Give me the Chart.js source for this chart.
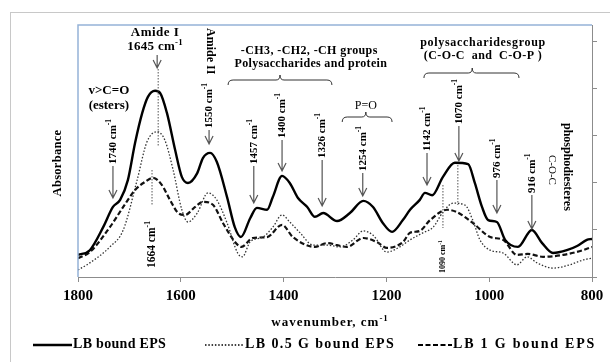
<!DOCTYPE html>
<html>
<head>
<meta charset="utf-8">
<script src="https://cdn.jsdelivr.net/npm/chart.js@4/dist/chart.umd.min.js"></script>
<style>
  html, body { margin: 0; padding: 0; background: #fff; }
  #wrap { position: relative; width: 610px; height: 362px; overflow: hidden; }
  #frame { position: absolute; left: 10px; top: 12px; width: 700px; height: 400px; border: 1px solid #c8c8c8; }
  canvas { position: absolute; left: 0; top: 0; }
</style>
</head>
<body>
<div id="wrap">
  <div id="frame"></div>
  <canvas id="c" width="610" height="362"></canvas>
</div>
<script>
// FTIR spectra, values (absorbance, arbitrary units)
const xTicks = [1800, 1600, 1400, 1200, 1000, 800];
const yTicks = [0, 0.1, 0.2, 0.3, 0.4, 0.5];
const seriesNames = ['LB bound EPS', 'LB 0.5 G bound EPS', 'LB 1 G bound EPS'];

const solidWn = [1800,1777,1751,1732,1718,1703,1689,1675,1664,1650,1640,1627,1611,1598,1586,1568,1557,1543,1530,1510,
  1495,1483,1465,1452,1432,1421,1403,1388,1372,1354,1339,1323,1296,1271,1245,1226,1207,1189,1168,1154,
  1135,1125,1111,1090,1067,1041,1028,1014,1002,985,969,944,917,897,876,849,829,810,800];
const solidAbs = [0.047,0.057,0.106,0.149,0.164,0.206,0.285,0.349,0.383,0.396,0.391,0.349,0.270,0.213,0.200,0.221,0.253,0.264,0.245,0.170,
  0.106,0.085,0.125,0.147,0.143,0.170,0.215,0.200,0.168,0.149,0.128,0.136,0.119,0.136,0.162,0.149,0.115,0.096,0.121,0.143,
  0.164,0.179,0.174,0.213,0.243,0.240,0.200,0.149,0.121,0.117,0.079,0.064,0.100,0.072,0.051,0.057,0.066,0.079,0.081];

const dottedWn = [1800,1777,1738,1712,1685,1666,1646,1631,1615,1598,1586,1568,1547,1530,1510,1489,1480,1465,1440,1421,
  1403,1388,1368,1343,1316,1290,1265,1245,1226,1199,1174,1154,1129,1109,1090,1070,1047,1032,1018,998,
  973,946,926,907,876,843,818,800];
const dottedAbs = [0.015,0.030,0.064,0.100,0.206,0.287,0.309,0.291,0.228,0.143,0.117,0.136,0.179,0.164,0.115,0.050,0.043,0.075,0.085,0.106,
  0.132,0.117,0.094,0.068,0.068,0.064,0.079,0.098,0.089,0.053,0.064,0.079,0.094,0.106,0.138,0.157,0.153,0.121,0.079,0.057,
  0.051,0.026,0.043,0.030,0.019,0.026,0.036,0.040];

const dashedWn = [1800,1777,1738,1712,1689,1670,1654,1637,1621,1605,1592,1572,1557,1537,1518,1495,1482,1460,1432,1403,
  1382,1339,1316,1277,1245,1218,1199,1168,1154,1135,1115,1082,1063,1032,998,973,946,925,895,856,818,800];
const dashedAbs = [0.040,0.053,0.106,0.149,0.185,0.202,0.211,0.196,0.164,0.136,0.132,0.149,0.160,0.153,0.115,0.075,0.064,0.083,0.085,0.111,
  0.085,0.064,0.072,0.064,0.083,0.074,0.062,0.074,0.094,0.098,0.121,0.143,0.138,0.115,0.085,0.079,0.047,0.049,0.043,0.047,0.057,0.064];

const pts = (wn, ab) => wn.map((w, i) => ({ x: w, y: ab[i] }));

const F = (size, bold) => (bold ? 'bold ' : '') + size + 'px "Liberation Serif", "Times New Roman", serif';

function drawSup(ctx, base, sup, x, y, size, bold, align, spacing) {
  ctx.letterSpacing = (spacing || 0) + 'px';
  ctx.font = F(size, bold);
  const wb = ctx.measureText(base).width;
  ctx.font = F(size * 0.68, bold);
  const ws = ctx.measureText(sup).width;
  const sx = align === 'center' ? x - (wb + ws) / 2 : x;
  ctx.textAlign = 'left';
  ctx.textBaseline = 'middle';
  ctx.font = F(size, bold);
  ctx.fillText(base, sx, y);
  ctx.font = F(size * 0.68, bold);
  ctx.fillText(sup, sx + wb, y - size * 0.35);
  ctx.letterSpacing = '0px';
}

function text(ctx, s, x, y, size, bold, spacing) {
  ctx.letterSpacing = (spacing || 0) + 'px';
  ctx.font = F(size, bold);
  ctx.textAlign = 'center';
  ctx.textBaseline = 'middle';
  ctx.fillText(s, x, y);
  ctx.letterSpacing = '0px';
}

function arrow(ctx, x, y1, y2) {
  ctx.save();
  ctx.strokeStyle = '#555';
  ctx.lineWidth = 1.2;
  ctx.beginPath();
  ctx.moveTo(x, y1); ctx.lineTo(x, y2);
  ctx.moveTo(x - 4, y2 - 8); ctx.lineTo(x, y2); ctx.lineTo(x + 4, y2 - 8);
  ctx.stroke();
  ctx.restore();
}

function vdots(ctx, x, y1, y2) {
  ctx.save();
  ctx.strokeStyle = '#555';
  ctx.lineWidth = 1;
  ctx.setLineDash([1.5, 1.5]);
  ctx.beginPath(); ctx.moveTo(x, y1); ctx.lineTo(x, y2); ctx.stroke();
  ctx.restore();
}

function brace(ctx, x1, x2, xc, y) {
  ctx.save();
  ctx.strokeStyle = '#333';
  ctx.lineWidth = 1;
  ctx.beginPath();
  ctx.moveTo(x1, y + 5);
  ctx.quadraticCurveTo(x1, y, x1 + 5, y);
  ctx.lineTo(xc - 4, y);
  ctx.quadraticCurveTo(xc, y, xc, y - 5);
  ctx.quadraticCurveTo(xc, y, xc + 4, y);
  ctx.lineTo(x2 - 5, y);
  ctx.quadraticCurveTo(x2, y, x2, y + 5);
  ctx.stroke();
  ctx.restore();
}

// rotated peak labels: wavenumber, label, text bottom y, arrow tip y
const peakLabels = [
  [1732, '1740 cm', 164, 198],
  [1545, '1550 cm', 128, 144],
  [1458, '1457 cm', 164, 203],
  [1403, '1400 cm', 138, 171],
  [1325, '1326 cm', 158, 206],
  [1246, '1254 cm', 171, 196],
  [1121, '1142 cm', 151, 185],
  [1059, '1070 cm', 124, 161],
  [985, '976 cm', 178, 213],
  [917, '916 cm', 193, 229]
];

const annot = {
  id: 'annot',
  afterDraw(chart) {
    const ctx = chart.ctx, a = chart.chartArea, xs = chart.scales.x;
    const X = w => xs.getPixelForValue(w);
    ctx.save();
    ctx.fillStyle = '#000';

    // blue frame on left and top
    ctx.strokeStyle = '#95b3d7';
    ctx.lineWidth = 1.5;
    ctx.beginPath();
    ctx.moveTo(a.left, a.bottom); ctx.lineTo(a.left, a.top); ctx.lineTo(a.right, a.top);
    ctx.stroke();

    const vlabel = (x, base, yb, size, bold) => {
      ctx.save(); ctx.translate(x, yb); ctx.rotate(-Math.PI / 2);
      drawSup(ctx, base, '-1', 0, 0, size, bold, 'left');
      ctx.restore();
    };
    const vdown = (x, s, yt, size, bold) => {
      ctx.save(); ctx.translate(x, yt); ctx.rotate(Math.PI / 2);
      ctx.font = F(size, bold); ctx.textAlign = 'left'; ctx.textBaseline = 'middle';
      ctx.fillText(s, 0, 0);
      ctx.restore();
    };

    peakLabels.forEach(p => {
      const x = X(p[0]);
      vlabel(x, p[1], p[2], 11, true);
      arrow(ctx, x, p[2] + 2, p[3]);
    });

    // Amide I
    text(ctx, 'Amide I', X(1650), 33, 13, true, 0.5);
    drawSup(ctx, '1645 cm', '-1', X(1650), 47, 13, true, 'center', 0.3);
    arrow(ctx, X(1646), 55, 68);
    vdots(ctx, X(1644), 69, 147);

    text(ctx, 'v>C=O', X(1740), 91, 13, true);
    text(ctx, '(esters)', X(1740), 106, 13, true);

    vdown(X(1543), 'Amide II', 28, 12, true);

    text(ctx, '-CH3, -CH2, -CH groups', X(1350), 51, 12, true, 0.4);
    text(ctx, 'Polysaccharides and protein', X(1347), 64, 12, true, 0.3);
    brace(ctx, X(1508), X(1306), X(1407), 80);

    text(ctx, 'P=O', X(1240), 106, 12, false);
    brace(ctx, X(1286), X(1189), X(1240), 117);

    text(ctx, 'polysaccharidesgroup', X(1012), 43, 12, true, 0.7);
    text(ctx, '(C-O-C  and  C-O-P )', X(1012), 56, 12, true, 0.4);
    brace(ctx, X(1127), X(942), X(1033), 73);

    vdown(X(849), 'phosphodiesteres', 123, 12, true);
    vdown(X(878), 'C-O-C', 155, 11, false);

    vdots(ctx, X(1656), 170, 206);
    vlabel(X(1656), '1664 cm', 268, 11.5, true);
    vdots(ctx, X(1090), 185, 228);
    vlabel(X(1090), '1090 cm', 273, 8, true);
    vdots(ctx, X(1061), 165, 205);

    // axis titles
    ctx.save(); ctx.translate(58, 163); ctx.rotate(-Math.PI / 2);
    text(ctx, 'Absorbance', 0, 0, 12.5, true, 0.3);
    ctx.restore();
    drawSup(ctx, 'wavenumber, cm', '-1', 330, 323, 13, true, 'center', 1);

    // legend: line start, line end, dash, width, text x, letter spacing
    const leg = [[33, 72, [], 2.5, 73, 0.3], [205, 243, [1.5, 1.8], 1.3, 245, 1.4], [418, 452, [5, 2.5], 2.2, 453, 1.8]];
    leg.forEach((l, i) => {
      ctx.save();
      ctx.strokeStyle = '#000'; ctx.lineWidth = l[3]; ctx.setLineDash(l[2]);
      ctx.beginPath(); ctx.moveTo(l[0], 345); ctx.lineTo(l[1], 345); ctx.stroke();
      ctx.restore();
      ctx.letterSpacing = l[5] + 'px';
      ctx.font = F(14, true); ctx.textAlign = 'left'; ctx.textBaseline = 'middle';
      ctx.fillText(seriesNames[i], l[4], 344);
      ctx.letterSpacing = '0px';
    });
    ctx.restore();
  }
};

new Chart(document.getElementById('c'), {
  type: 'line',
  data: {
    datasets: [
      { label: seriesNames[0], data: pts(solidWn, solidAbs), borderColor: '#000', borderWidth: 2.4 },
      { label: seriesNames[1], data: pts(dottedWn, dottedAbs), borderColor: '#333', borderWidth: 1.3, borderDash: [1.5, 1.8] },
      { label: seriesNames[2], data: pts(dashedWn, dashedAbs), borderColor: '#111', borderWidth: 2.2, borderDash: [5, 2.5] }
    ]
  },
  options: {
    responsive: false,
    animation: false,
    devicePixelRatio: 1,
    layout: { padding: { left: 78, top: 25, right: 0, bottom: 0 } },
    elements: { point: { radius: 0 }, line: { cubicInterpolationMode: 'monotone', fill: false } },
    plugins: { legend: { display: false }, tooltip: { enabled: false } },
    scales: {
      x: {
        type: 'linear', reverse: true, min: 800, max: 1800,
        afterBuildTicks: s => { s.ticks = xTicks.map(v => ({ value: v })); },
        afterFit: s => { s.height = 85; },
        ticks: { color: '#000', padding: 5, maxRotation: 0, callback: v => String(v),
          font: { family: 'Liberation Serif', size: 15, weight: 'bold' } },
        grid: { drawOnChartArea: false, tickLength: 5, color: '#8c8c8c' },
        border: { color: '#8c8c8c' }
      },
      y: {
        position: 'right', min: 0, max: 0.536,
        afterBuildTicks: s => { s.ticks = yTicks.map(v => ({ value: v })); },
        afterFit: s => { s.width = 18; },
        ticks: { display: false },
        grid: { drawOnChartArea: false, tickLength: 5, color: '#8c8c8c' },
        border: { color: '#8c8c8c' }
      }
    }
  },
  plugins: [annot]
});
</script>
</body>
</html>
